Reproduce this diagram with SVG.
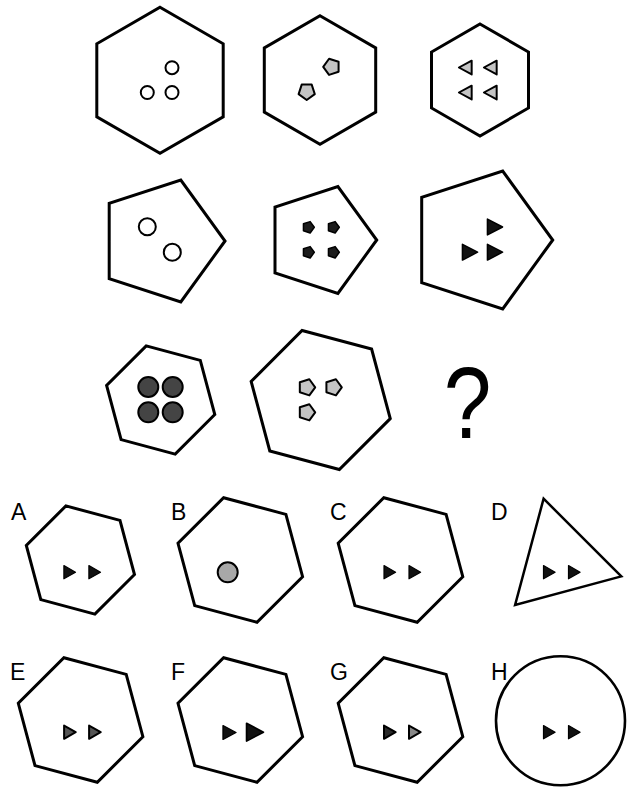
<svg xmlns="http://www.w3.org/2000/svg" xmlns:xlink="http://www.w3.org/1999/xlink" width="640" height="800" viewBox="0 0 640 800">
<style>
.frame{fill:#fff;stroke:#000;stroke-width:3;stroke-linejoin:miter}
.ring{fill:#fff;stroke:#000;stroke-width:2}
.lgray{fill:#c4c4c4;stroke:#000;stroke-width:2;stroke-linejoin:round}
.dgray{fill:#444;stroke:#000;stroke-width:2}
.blk{fill:#111;stroke:#000;stroke-width:1.2;stroke-linejoin:round}
.lbl{font-family:"Liberation Sans",Arial,sans-serif;font-size:23px;fill:#000}
</style>
<defs>
<polygon id="hexS" points="54.09,14.49 14.49,54.09 -39.6,39.6 -54.09,-14.49 -14.49,-54.09 39.6,-39.6"/>
<polygon id="hexL" points="62.3,16.69 16.69,62.3 -45.61,45.61 -62.3,-16.69 -16.69,-62.3 45.61,-45.61"/>
<polygon id="tri" points="-5.8,-6.6 5.8,0 -5.8,6.6"/>
<polygon id="pentR" points="6,0 1.85,5.71 -4.85,3.53 -4.85,-3.53 1.85,-5.71"/>
<polygon id="pentG" points="8.5,0 2.63,8.08 -6.88,5 -6.88,-5 2.63,-8.08"/>
</defs>

<g id="connectors"></g>

<!-- Row 1 -->
<g id="r1c1">
<polygon class="frame" points="160,7.3 223.2,43.8 223.2,116.8 160,153.3 96.8,116.8 96.8,43.8"/>
<circle class="ring" cx="172" cy="67.7" r="6.5"/>
<circle class="ring" cx="147.3" cy="92.5" r="6.5"/>
<circle class="ring" cx="172" cy="92.5" r="6.5"/>
</g>
<g id="r1c2">
<polygon class="frame" points="320,15.7 375.7,47.85 375.7,112.15 320,144.3 264.3,112.15 264.3,47.85"/>
<use xlink:href="#pentG" class="lgray" transform="translate(331.7,66.8) rotate(180)"/>
<use xlink:href="#pentG" class="lgray" transform="translate(306.7,91.5) rotate(90)"/>
</g>
<g id="r1c3">
<polygon class="frame" points="480,24 528.5,52 528.5,108 480,136 431.5,108 431.5,52"/>
<use xlink:href="#tri" class="lgray" style="stroke-width:1.8" transform="translate(465.3,67.5) scale(-1.1,1.05)"/>
<use xlink:href="#tri" class="lgray" style="stroke-width:1.8" transform="translate(490.3,67.5) scale(-1.1,1.05)"/>
<use xlink:href="#tri" class="lgray" style="stroke-width:1.8" transform="translate(465.3,92.5) scale(-1.1,1.05)"/>
<use xlink:href="#tri" class="lgray" style="stroke-width:1.8" transform="translate(490.3,92.5) scale(-1.1,1.05)"/>
</g>

<!-- Row 2 -->
<g id="r2c1">
<polygon class="frame" points="225,241 180.8,301.9 109.2,278.6 109.2,203.4 180.8,180.1"/>
<circle class="ring" cx="147.3" cy="226.7" r="8.5"/>
<circle class="ring" cx="172.3" cy="252.3" r="8.5"/>
</g>
<g id="r2c2">
<polygon class="frame" points="376.7,240 337.9,293.4 275,273 275,207 337.9,186.6"/>
<use xlink:href="#pentR" class="blk" style="fill:#1c1c1c;stroke-width:1.5" x="308.3" y="227.3"/>
<use xlink:href="#pentR" class="blk" style="fill:#1c1c1c;stroke-width:1.5" x="333.3" y="227.3"/>
<use xlink:href="#pentR" class="blk" style="fill:#1c1c1c;stroke-width:1.5" x="308.3" y="252.3"/>
<use xlink:href="#pentR" class="blk" style="fill:#1c1c1c;stroke-width:1.5" x="333.3" y="252.3"/>
</g>
<g id="r2c3">
<polygon class="frame" points="552.7,240 502.7,308.9 421.7,282.6 421.7,197.4 502.7,171.1"/>
<use xlink:href="#tri" class="blk" transform="translate(495,227) scale(1.3,1.2)"/>
<use xlink:href="#tri" class="blk" transform="translate(470,252.2) scale(1.3,1.2)"/>
<use xlink:href="#tri" class="blk" transform="translate(495,252.2) scale(1.3,1.2)"/>
</g>

<!-- Row 3 -->
<g id="r3c1">
<polygon class="frame" points="214.8,414.5 175.2,454.1 121.1,439.6 106.6,385.5 146.2,345.9 200.3,360.4"/>
<circle class="dgray" cx="148.3" cy="387" r="10"/>
<circle class="dgray" cx="172.7" cy="387" r="10"/>
<circle class="dgray" cx="148.3" cy="412.3" r="10"/>
<circle class="dgray" cx="172.7" cy="412.3" r="10"/>
</g>
<g id="r3c2">
<polygon class="frame" points="390.25,418.63 339.33,469.55 269.79,450.91 251.15,381.37 302.07,330.45 371.61,349.09"/>
<use xlink:href="#pentG" class="lgray" x="306.7" y="387.3"/>
<use xlink:href="#pentG" class="lgray" x="333.3" y="387.3"/>
<use xlink:href="#pentG" class="lgray" x="306.7" y="412.3"/>
</g>
<g id="question">
<text transform="translate(467.5,438.3) scale(0.84,1)" text-anchor="middle" style="font-family:'Liberation Sans',Arial,sans-serif;font-size:102px;fill:#000">?</text>
</g>

<!-- Options row 1 -->
<g id="optA">
<text class="lbl" x="11" y="520">A</text>
<use xlink:href="#hexS" class="frame" x="80.4" y="560"/>
<use xlink:href="#tri" class="blk" x="69.7" y="572.2"/>
<use xlink:href="#tri" class="blk" x="94.7" y="572.2"/>
</g>
<g id="optB">
<text class="lbl" x="171" y="520">B</text>
<use xlink:href="#hexL" class="frame" x="240.3" y="560"/>
<circle cx="227.7" cy="572.3" r="10" style="fill:#a8a8a8;stroke:#000;stroke-width:2"/>
</g>
<g id="optC">
<text class="lbl" x="330" y="520">C</text>
<use xlink:href="#hexL" class="frame" x="400.5" y="560"/>
<use xlink:href="#tri" class="blk" x="389.8" y="572.2"/>
<use xlink:href="#tri" class="blk" x="414.8" y="572.2"/>
</g>
<g id="optD">
<text class="lbl" x="491" y="520">D</text>
<polygon class="frame" style="stroke-width:2.5" points="621.3,576.4 515.1,604.9 543.6,498.7"/>
<use xlink:href="#tri" class="blk" x="549.3" y="572.2"/>
<use xlink:href="#tri" class="blk" x="574.3" y="572.2"/>
</g>

<!-- Options row 2 -->
<g id="optE">
<text class="lbl" x="10" y="680">E</text>
<use xlink:href="#hexL" class="frame" x="80.6" y="720"/>
<use xlink:href="#tri" class="blk" style="fill:#555;stroke-width:2" x="69.9" y="732.2"/>
<use xlink:href="#tri" class="blk" style="fill:#555;stroke-width:2" x="94.9" y="732.2"/>
</g>
<g id="optF">
<text class="lbl" x="171" y="680">F</text>
<use xlink:href="#hexL" class="frame" x="240.3" y="720"/>
<use xlink:href="#tri" class="blk" transform="translate(229.5,732.5) scale(1.12,1.05)"/>
<use xlink:href="#tri" class="blk" transform="translate(255,732.2) scale(1.45,1.35)"/>
</g>
<g id="optG">
<text class="lbl" x="330" y="680">G</text>
<use xlink:href="#hexL" class="frame" x="400.5" y="720"/>
<use xlink:href="#tri" class="blk" style="fill:#2a2a2a;stroke-width:2" x="389.8" y="732.2"/>
<use xlink:href="#tri" class="blk" style="fill:#888;stroke-width:2" x="414.8" y="732.2"/>
</g>
<g id="optH">
<text class="lbl" x="491" y="680">H</text>
<circle cx="560.5" cy="720.8" r="64.5" style="fill:none;stroke:#000;stroke-width:2.6"/>
<use xlink:href="#tri" class="blk" x="549.3" y="732.2"/>
<use xlink:href="#tri" class="blk" x="574.3" y="732.2"/>
</g>
</svg>
